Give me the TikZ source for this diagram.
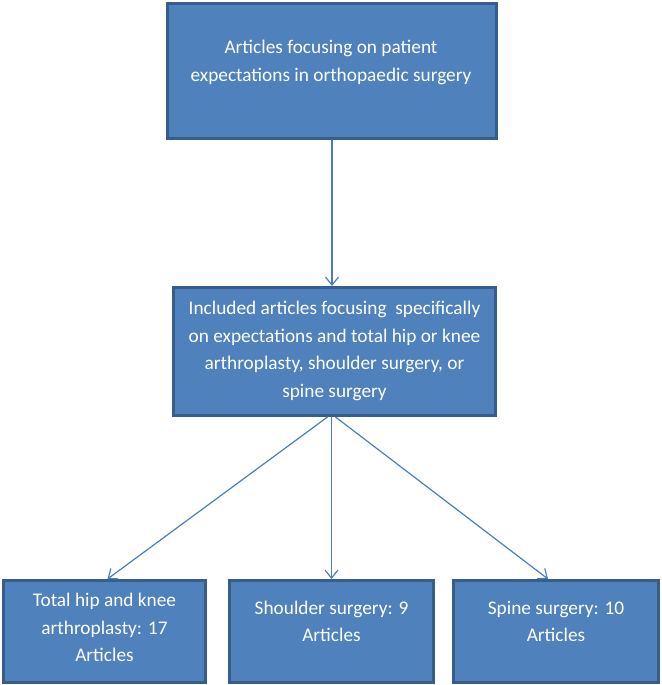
\documentclass[tikz,border=0pt]{standalone}
\usepackage{fontspec}
\setmainfont{Carlito}
\usetikzlibrary{arrows.meta}
\definecolor{boxfill}{HTML}{4F81BD}
\definecolor{boxline}{HTML}{385D8A}
\definecolor{arrowcol}{HTML}{4A7EBB}
\begin{document}
\begin{tikzpicture}[x=1pt,y=-1pt,
  box/.style={draw=boxline, fill=boxfill, line width=3pt, inner sep=0pt},
  boxtext/.style={text=white, align=center, font=\fontsize{19.3}{27.5}\selectfont, inner sep=0pt},
  conn/.style={draw=arrowcol, line width=1.2pt, -{Straight Barb[length=8pt,width=13pt]}}]
\useasboundingbox (0,0) rectangle (661,685);
\node[box, minimum width=329, minimum height=135] (top) at (332,71) {};
\node[boxtext] (toptext) at (331,62.5) {Articles focusing on patient\\expectations in orthopaedic surgery};
\node[box, minimum width=322, minimum height=128] (mid) at (334.5,351.5) {};
\node[boxtext] (midtext) at (334.5,351) {Included articles focusing\ \ specifically\\on expectations and total hip or knee\\arthroplasty, shoulder surgery, or\\spine surgery};
\node[box, minimum width=202, minimum height=102] (b1) at (104.5,631.5) {};
\node[boxtext] (b1text) at (104.5,627.5) {Total hip and knee\\arthroplasty: 17\\Articles};
\node[box, minimum width=204, minimum height=102] (b2) at (331.5,631.5) {};
\node[boxtext] (b2text) at (331.5,621.5) {Shoulder surgery: 9\\Articles};
\node[box, minimum width=205, minimum height=102] (b3) at (556,631.5) {};
\node[boxtext] (b3text) at (556,621.5) {Spine surgery: 10\\Articles};
\draw[conn] (top.south) -- (top.south |- mid.north);
\draw[conn] ([xshift=-7pt]mid.south) -- ([xshift=3pt]b1.north);
\draw[conn] ([xshift=-3pt]mid.south) -- (b2.north);
\draw[conn] ([xshift=1pt]mid.south) -- ([xshift=-8pt]b3.north);
\end{tikzpicture}
\end{document}
